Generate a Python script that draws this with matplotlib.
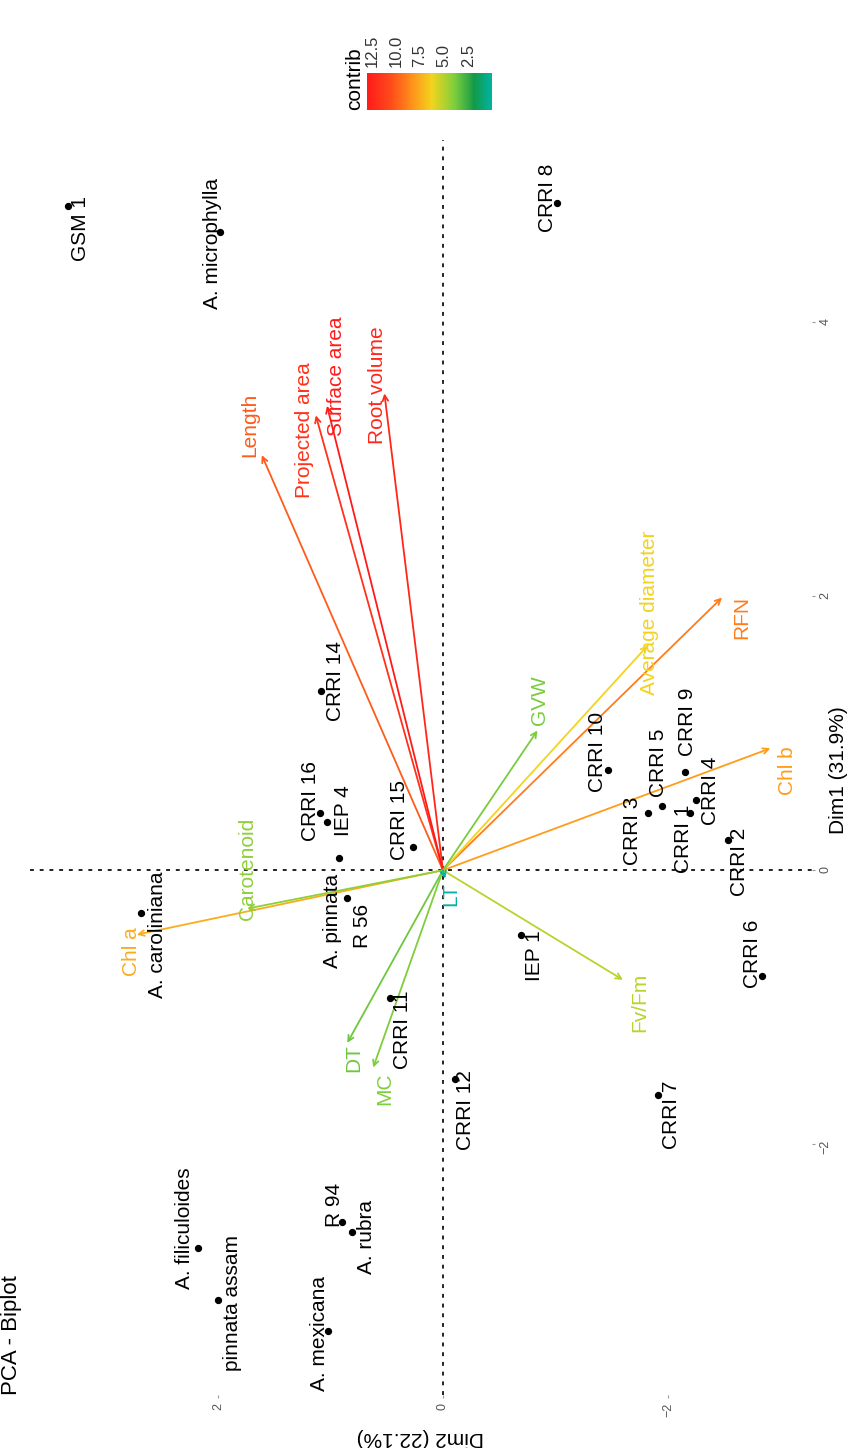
import matplotlib.pyplot as plt
from matplotlib.colors import LinearSegmentedColormap, Normalize
from matplotlib.cm import ScalarMappable

OUTPUT_PATH = "out.png"

FIG_W, FIG_H = 848, 1448

TITLE = "PCA - Biplot"
DIM1_LABEL = "Dim1 (31.9%)"
DIM2_LABEL = "Dim2 (22.1%)"

# individuals: coordinates on Dim1 / Dim2
ind_names = [
    "GSM 1", "A. microphylla", "CRRI 8", "CRRI 14", "CRRI 16", "IEP 4",
    "A. pinnata", "R 56", "CRRI 15", "A. caroliniana", "CRRI 11", "CRRI 12",
    "IEP 1", "CRRI 7", "CRRI 6", "CRRI 2", "CRRI 4", "CRRI 1", "CRRI 9",
    "CRRI 5", "CRRI 3", "CRRI 10", "A. filiculoides", "pinnata assam",
    "A. mexicana", "R 94", "A. rubra",
]
ind_dim1 = [
    4.85, 4.66, 4.87, 1.31, 0.42, 0.35,
    0.09, -0.20, 0.17, -0.31, -0.93, -1.52,
    -0.47, -1.64, -0.77, 0.22, 0.51, 0.42, 0.72,
    0.47, 0.42, 0.73, -2.76, -3.14,
    -3.36, -2.57, -2.64,
]
ind_dim2 = [
    3.33, 1.98, -1.01, 1.08, 1.09, 1.03,
    0.92, 0.85, 0.27, 2.68, 0.47, -0.11,
    -0.69, -1.91, -2.84, -2.53, -2.25, -2.20, -2.15,
    -1.95, -1.82, -1.47, 2.18, 2.00,
    1.02, 0.90, 0.81,
]

# variables: loadings and contribution
var_names = [
    "Length", "Projected area", "Surface area", "Root volume", "RFN",
    "Average diameter", "Chl b", "Chl a", "Carotenoid", "GVW", "Fv/Fm",
    "DT", "MC", "LT",
]
var_dim1 = [3.03, 3.32, 3.39, 3.48, 1.99, 1.64, 0.89, -0.47, -0.28, 1.02, -0.80, -1.26, -1.44, -0.06]
var_dim2 = [1.61, 1.13, 1.03, 0.52, -2.48, -1.82, -2.91, 2.72, 1.74, -0.84, -1.60, 0.85, 0.62, -0.02]
var_contrib = [10.0, 11.8, 13.0, 12.3, 9.0, 6.3, 8.0, 7.5, 4.2, 3.8, 5.2, 3.6, 3.9, 0.05]

contrib_ticks = [2.5, 5.0, 7.5, 10.0, 12.5]

# label nudges in pixels (right, down) from the marker
ind_nudge = {
    "GSM 1": (12, 23), "A. microphylla": (-8, 12), "CRRI 8": (-9, -5),
    "CRRI 14": (14, -10), "CRRI 16": (-10, -12), "IEP 4": (16, -12),
    "A. pinnata": (-7, 63), "R 56": (15, 28), "CRRI 15": (-13, -27),
    "A. caroliniana": (16, 22), "CRRI 11": (12, 32), "CRRI 12": (10, 32),
    "IEP 1": (14, 21), "CRRI 7": (14, 20), "CRRI 6": (-10, -22),
    "CRRI 2": (12, 22), "CRRI 4": (14, -10), "CRRI 1": (-7, 26),
    "CRRI 9": (3, -50), "CRRI 5": (-4, -43), "CRRI 3": (-15, 18),
    "CRRI 10": (-11, -18), "A. filiculoides": (-13, -20),
    "pinnata assam": (15, 3), "A. mexicana": (-9, 3), "R 94": (-7, -17),
    "A. rubra": (15, 5),
}
var_nudge = {
    "Length": (-12, -30), "Projected area": (-11, 15), "Surface area": (9, -30),
    "Root volume": (-7, -8), "RFN": (20, 20), "Average diameter": (2, -33),
    "Chl b": (17, 22), "Chl a": (-5, 17), "Carotenoid": (0, -40),
    "GVW": (2, -30), "Fv/Fm": (17, 23), "DT": (6, 15), "MC": (12, 21),
    "LT": (6, 16),
}

FONT = "Liberation Sans"
LABEL_SIZE = 15

contrib_cmap = LinearSegmentedColormap.from_list("contrib", [
    (0.0, "#00B3A4"),
    (0.14, "#129A48"),
    (0.3, "#7FCF3C"),
    (0.48, "#F2D41E"),
    (0.62, "#FF9A1A"),
    (0.8, "#FF4E1A"),
    (1.0, "#FF1A1A"),
])


def fx(px):
    return px / FIG_W


def fy(py):
    return 1 - py / FIG_H


def main():
    plt.rcParams["font.family"] = [FONT, "DejaVu Sans"]

    fig = plt.figure(figsize=(FIG_W / 100, FIG_H / 100), dpi=100)
    fig.patch.set_facecolor("white")

    # panel is drawn turned a quarter: Dim1 runs up, Dim2 runs to the left
    ax = fig.add_axes([fx(30), fy(1395), fx(812) - fx(30), fy(140) - fy(1395)])
    ax.set_xlim(3.67, -3.28)
    ax.set_ylim(-3.83, 5.33)
    for spine in ax.spines.values():
        spine.set_visible(False)

    ax.axvline(0, color="#222222", lw=1.4, ls=(0, (2, 3)), zorder=1)
    ax.axhline(0, color="#222222", lw=1.4, ls=(0, (2, 3)), zorder=1)

    ax.set_xticks([-2, 0, 2])
    ax.set_yticks([-2, 0, 2, 4])
    ax.yaxis.tick_right()
    ax.tick_params(axis="both", length=2, color="#999999", labelcolor="#555555",
                   labelsize=9, labelrotation=90)

    norm = Normalize(vmin=min(var_contrib), vmax=max(var_contrib))

    # variable arrows
    for name, d1, d2, c in zip(var_names, var_dim1, var_dim2, var_contrib):
        color = contrib_cmap(norm(c))
        ax.annotate("", xy=(d2, d1), xytext=(0, 0),
                    arrowprops=dict(arrowstyle="->", color=color, lw=1.3,
                                    shrinkA=0, shrinkB=0, mutation_scale=10),
                    zorder=2)
        dx, dy = var_nudge[name]
        ax.annotate(name, xy=(d2, d1), xytext=(dx * 0.72, -dy * 0.72),
                    textcoords="offset points", rotation=90,
                    ha="center", va="center", color=color,
                    fontsize=LABEL_SIZE, zorder=4)

    # individuals
    ax.scatter(ind_dim2, ind_dim1, s=18, color="black", zorder=3)
    for name, d1, d2 in zip(ind_names, ind_dim1, ind_dim2):
        dx, dy = ind_nudge[name]
        ax.annotate(name, xy=(d2, d1), xytext=(dx * 0.72, -dy * 0.72),
                    textcoords="offset points", rotation=90,
                    ha="center", va="center", color="black",
                    fontsize=LABEL_SIZE, zorder=4)

    fig.text(fx(838), fy(770), DIM1_LABEL, rotation=90, ha="center",
             va="center", fontsize=15)
    fig.text(fx(420), fy(1437), DIM2_LABEL, rotation=180, ha="center",
             va="center", fontsize=15)
    fig.text(fx(12), fy(1395), TITLE, rotation=90, ha="center",
             va="bottom", fontsize=16)

    # contrib colour bar
    cax = fig.add_axes([fx(367), fy(110), fx(492) - fx(367), fy(73) - fy(110)])
    sm = ScalarMappable(norm=norm, cmap=contrib_cmap)
    cb = fig.colorbar(sm, cax=cax, orientation="horizontal")
    cb.outline.set_visible(False)
    cax.invert_xaxis()
    cb.set_ticks(contrib_ticks)
    cb.set_ticklabels([f"{t:.1f}" for t in contrib_ticks])
    cax.xaxis.set_ticks_position("top")
    cax.tick_params(axis="x", length=0, labelsize=12, labelrotation=90,
                    labelcolor="#333333", pad=4)
    fig.text(fx(355), fy(110), "contrib", rotation=90, ha="center",
             va="bottom", fontsize=15)

    fig.savefig(OUTPUT_PATH, dpi=100)
    plt.close(fig)


if __name__ == "__main__":
    main()
